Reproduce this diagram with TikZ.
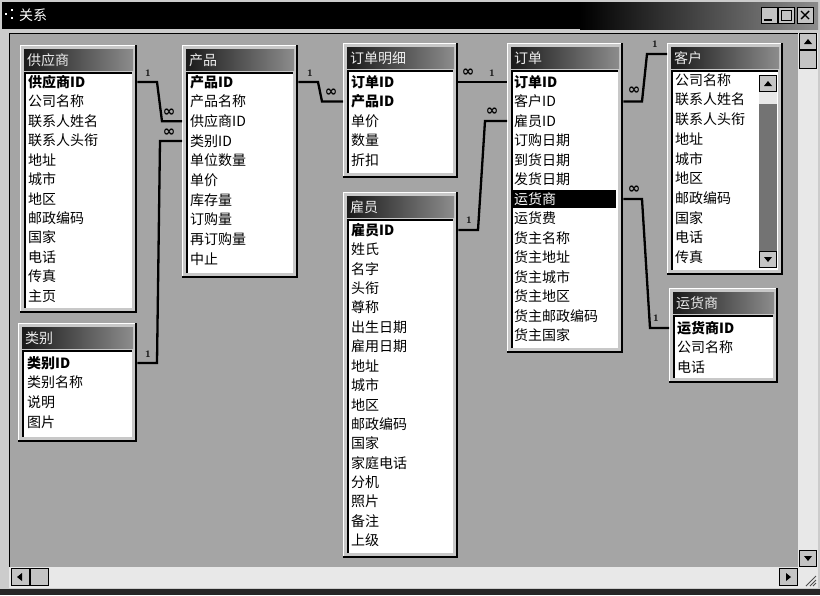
\documentclass[tikz,border=0pt]{standalone}
\usepackage{fontspec}
\newfontfamily\cjk{Noto Sans CJK SC}
\newfontfamily\dejavu{DejaVu Sans}
\definecolor{bg}{RGB}{165,165,165}
\definecolor{frm}{RGB}{200,200,200}
\definecolor{trough}{RGB}{232,232,232}
\definecolor{btn}{RGB}{196,196,196}
\tikzset{
  row/.style={anchor=west, inner sep=0pt, font=\cjk\fontsize{14}{14}\selectfont},
  ttl/.style={anchor=west, inner sep=0pt, text=gray!15, font=\cjk\fontsize{14}{14}\selectfont},
  rel/.style={line width=2.3pt, black, line join=miter},
  lone/.style={inner sep=0pt, font=\fontsize{10}{10}\selectfont\bfseries},
  linf/.style={inner sep=0pt, font=\dejavu\bfseries\fontsize{15}{15}\selectfont},
  sbtn/.style={fill=btn, draw=black, line width=0.6pt},
}
\newcommand{\acctable}[6]{%
  \pgfmathsetmacro{\tw}{#4-#2}\pgfmathsetmacro{\th}{#5-#3}%
  \node[inner sep=0pt, fill=frm, minimum width=\tw pt, minimum height=\th pt, anchor=north west] (#1) at (#2,#3) {};
  \draw[white, line width=1pt] (#2+0.5,#5) -- (#2+0.5,#3+0.5) -- (#4,#3+0.5);
  \draw[black, line width=1.8pt] (#2,#5-0.9) -- (#4-0.9,#5-0.9) -- (#4-0.9,#3);
  \shade[left color=black!90, right color=black!45] (#2+4,#3+4) rectangle (#4-4,#3+25);
  \node[ttl] (#1t) at (#2+7,#3+15) {#6};
  \fill[white] (#2+4,#3+27) rectangle (#4-5,#5-5);
  \draw[black, line width=1.6pt] (#2+4.8,#5-5) -- (#2+4.8,#3+27.8) -- (#4-5,#3+27.8);
}
\begin{document}
\begin{tikzpicture}[x=1pt,y=-1pt]
\useasboundingbox (0,0) rectangle (820,595);
% window frame
\fill[gray!40] (0,0) rectangle (820,595);
\fill[black] (2,2) rectangle (580,29);
\shade[left color=black, right color=black!45] (580,2) rectangle (818,29);
\fill[white] (5,13) rectangle (7,15);
\fill[white] (11,9) rectangle (13,11);
\fill[white] (11,17) rectangle (13,19);
\node[anchor=west, inner sep=0pt, text=white, font=\cjk\fontsize{14}{14}\selectfont] (wt) at (19,15) {关系};
% title buttons
\node[sbtn, minimum width=16pt, minimum height=16pt, inner sep=0pt] (bmin) at (769,15) {};
\draw[line width=1.6pt] (764,20) -- (772,20);
\node[sbtn, minimum width=16pt, minimum height=16pt, inner sep=0pt] (bmax) at (786,15) {};
\draw[line width=0.8pt] (781,10) rectangle (791,20);
\draw[line width=1.6pt] (781,10.5) -- (791,10.5);
\node[sbtn, minimum width=16pt, minimum height=16pt, inner sep=0pt] (bcls) at (805,15) {};
\draw[line width=1.4pt] (801,11) -- (809,19) (809,11) -- (801,19);
% client area
\fill[bg] (9,33) rectangle (798,567);
\draw[black, line width=1.5pt] (9.5,567) -- (9.5,33.5) -- (798,33.5);
% vertical scrollbar
\fill[trough] (798,33) rectangle (818,588);
\node[sbtn, minimum width=17pt, minimum height=16pt, inner sep=0pt] (vup) at (808,41) {};
\fill[black] (804,44) -- (812,44) -- (808,39) -- cycle;
\node[sbtn, minimum width=17pt, minimum height=18pt, inner sep=0pt] (vthumb) at (808,59) {};
\node[sbtn, minimum width=17pt, minimum height=16pt, inner sep=0pt] (vdn) at (808,558) {};
\fill[black] (804,556) -- (812,556) -- (808,561) -- cycle;
% horizontal scrollbar
\fill[trough] (9,567) rectangle (798,588);
\node[sbtn, minimum width=18pt, minimum height=17pt, inner sep=0pt] (hlft) at (20,577) {};
\fill[black] (22,573) -- (22,581) -- (17,577) -- cycle;
\node[sbtn, minimum width=18pt, minimum height=17pt, inner sep=0pt] (hthumb) at (39,577) {};
\node[sbtn, minimum width=18pt, minimum height=17pt, inner sep=0pt] (hrgt) at (788,577) {};
\fill[black] (786,573) -- (786,581) -- (791,577) -- cycle;
\draw[black!70, line width=0.8pt] (806,586) -- (816,576) (810,586) -- (816,580) (813,586) -- (816,583);
\fill[black!85] (0,589) rectangle (820,595);
% tables
\acctable{sup}{20}{45}{137}{313}{供应商}
\acctable{prod}{182}{45}{298}{278}{产品}
\acctable{det}{343}{43}{458}{178}{订单明细}
\acctable{ord}{507}{43}{623}{353}{订单}
\acctable{emp}{343}{192}{458}{558}{雇员}
\acctable{cust}{667}{43}{783}{275}{客户}
\acctable{ship}{669}{288}{778}{383}{运货商}
\acctable{cat}{18}{323}{137}{442}{类别}
% rows
\foreach \t [count=\i] in {{\textbf{供应商ID}},公司名称,联系人姓名,联系人头衔,地址,城市,地区,邮政编码,国家,电话,传真,主页}
  \node[row] (s\i) at (28,{82+(\i-1)*19.45}) {\t};
\foreach \t [count=\i] in {{\textbf{产品ID}},产品名称,供应商ID,类别ID,单位数量,单价,库存量,订购量,再订购量,中止}
  \node[row] (p\i) at (190,{82+(\i-1)*19.65}) {\t};
\foreach \t [count=\i] in {{\textbf{订单ID}},{\textbf{产品ID}},单价,数量,折扣}
  \node[row] (d\i) at (351,{82+(\i-1)*19.5}) {\t};
\fill[black] (513,190) rectangle (616,208);
\foreach \t [count=\i] in {{\textbf{订单ID}},客户ID,雇员ID,订购日期,到货日期,发货日期,{\textcolor{white}{运货商}},运货费,货主名称,货主地址,货主城市,货主地区,货主邮政编码,货主国家}
  \node[row] (o\i) at (514,{82+(\i-1)*19.5}) {\t};
\foreach \t [count=\i] in {{\textbf{雇员ID}},姓氏,名字,头衔,尊称,出生日期,雇用日期,地址,城市,地区,邮政编码,国家,家庭电话,分机,照片,备注,上级}
  \node[row] (e\i) at (351,{230+(\i-1)*19.4}) {\t};
\foreach \t [count=\i] in {公司名称,联系人姓名,联系人头衔,地址,城市,地区,邮政编码,国家,电话,传真}
  \node[row] (c\i) at (675,{80+(\i-1)*19.7}) {\t};
\foreach \t [count=\i] in {{\textbf{运货商ID}},公司名称,电话}
  \node[row] (h\i) at (677,{328+(\i-1)*19.5}) {\t};
\foreach \t [count=\i] in {{\textbf{类别ID}},类别名称,说明,图片}
  \node[row] (k\i) at (27,{363+(\i-1)*19.6}) {\t};
% customer list scrollbar
\fill[black!55] (759,92) rectangle (777,252);
\node[sbtn, minimum width=17pt, minimum height=16pt, inner sep=0pt] (cup) at (768,83) {};
\fill[black] (764,86) -- (772,86) -- (768,81) -- cycle;
\fill[trough] (759.3,91.5) rectangle (776.7,104);
\node[sbtn, minimum width=17pt, minimum height=16pt, inner sep=0pt] (cdn) at (768,259) {};
\fill[black] (764,257) -- (772,257) -- (768,262) -- cycle;
% relationships
\coordinate (custin) at (667,54);
\draw[rel] (sup.east |- s1) -- (157,0 |- s1) -- (162,0 |- p3) -- (prod.west |- p3);
\node[lone] (r1a) at (148,73) {1};
\node[linf] (r1b) at (169,113) {∞};
\draw[rel] (cat.east |- k1) -- (157,0 |- k1) -- (160,0 |- p4) -- (prod.west |- p4);
\node[lone] (r2a) at (148,354) {1};
\node[linf] (r2b) at (169,133) {∞};
\draw[rel] (prod.east |- p1) -- (318,0 |- p1) -- (322,0 |- d2) -- (det.west |- d2);
\node[lone] (r3a) at (310,73) {1};
\node[linf] (r3b) at (331,93) {∞};
\draw[rel] (det.east |- d1) -- (ord.west |- o1);
\node[linf] (r4a) at (468,73) {∞};
\node[lone] (r4b) at (492,73) {1};
\draw[rel] (emp.east |- e1) -- (478,0 |- e1) -- (485,0 |- o3) -- (ord.west |- o3);
\node[lone] (r5a) at (469,220) {1};
\node[linf] (r5b) at (492,112) {∞};
\draw[rel] (ord.east |- o2) -- (642,0 |- o2) -- (647,0 |- custin) -- (custin);
\node[linf] (r6a) at (634,91) {∞};
\node[lone] (r6b) at (655,44) {1};
\draw[rel] (ord.east |- o7) -- (642,0 |- o7) -- (650,0 |- h1) -- (ship.west |- h1);
\node[linf] (r7a) at (634,190) {∞};
\node[lone] (r7b) at (656,318) {1};
\end{tikzpicture}
\end{document}
